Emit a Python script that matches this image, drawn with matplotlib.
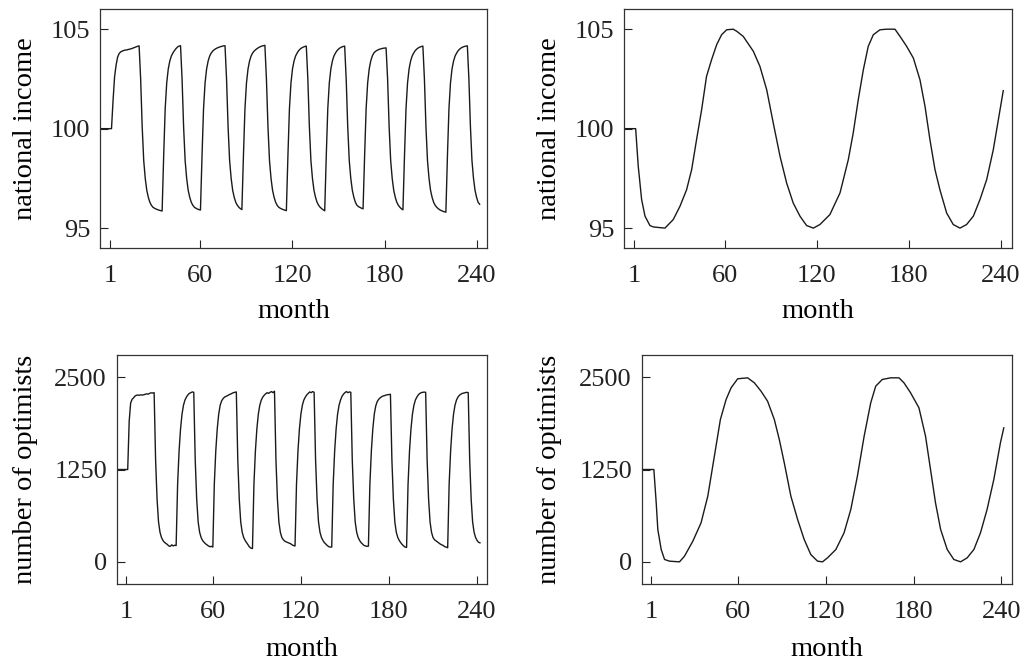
import numpy as np
import matplotlib
matplotlib.use("Agg")
import matplotlib.pyplot as plt
from matplotlib.transforms import blended_transform_factory

plt.rcParams['font.family'] = ['Liberation Serif', 'DejaVu Serif']
plt.rcParams['font.size'] = 19
plt.rcParams['axes.labelsize'] = 20.5

# ---- left column: fast cycles, monthly values from month -5 to 242 ----
fast_month = np.arange(-5, 243)

fast_income = [
    100, 100, 100, 100, 100, 100, 100, 100,
    101.4, 102.6, 103.2, 103.6, 103.78, 103.86, 103.9, 103.93, 103.95, 103.96,
    103.98, 104.0, 104.02, 104.05, 104.08, 104.11, 104.14, 104.16,
    102.5, 100.1, 98.4, 97.5, 96.9, 96.55, 96.3, 96.15, 96.05, 96.0,
    95.96, 95.93, 95.9, 95.88, 95.86,
    98.6, 101.0, 102.3, 103.0, 103.4, 103.65, 103.8, 103.92, 104.02, 104.1,
    104.15, 104.17,
    102.5, 100.1, 98.4, 97.5, 96.9, 96.55, 96.3, 96.15, 96.05, 96.0,
    95.96, 95.93, 95.91,
    98.6, 101.0, 102.3, 103.0, 103.4, 103.65, 103.8, 103.9, 103.97, 104.02,
    104.06, 104.09, 104.12, 104.14, 104.16, 104.17,
    102.5, 100.1, 98.4, 97.5, 96.9, 96.55, 96.3, 96.15, 96.05, 95.98, 95.93,
    98.6, 101.0, 102.3, 103.0, 103.4, 103.65, 103.8, 103.9, 103.97, 104.03,
    104.08, 104.12, 104.15, 104.17, 104.19,
    102.5, 100.1, 98.4, 97.5, 96.9, 96.55, 96.3, 96.15, 96.05, 96.0,
    95.96, 95.93, 95.9, 95.88,
    98.6, 101.0, 102.3, 103.0, 103.4, 103.65, 103.8, 103.92, 104.0, 104.06,
    104.1, 104.13, 104.15,
    102.5, 100.1, 98.4, 97.5, 96.9, 96.55, 96.3, 96.15, 96.05, 95.98,
    95.92, 95.87,
    98.6, 101.0, 102.3, 103.0, 103.4, 103.65, 103.8, 103.92, 104.0, 104.06,
    104.1, 104.13, 104.15,
    102.5, 100.1, 98.4, 97.5, 96.9, 96.55, 96.3, 96.15, 96.08, 96.04,
    96.0, 95.97,
    98.6, 101.0, 102.3, 103.0, 103.4, 103.65, 103.8, 103.88, 103.93, 103.97,
    104.0, 104.02, 104.04, 104.05, 104.06,
    102.5, 100.1, 98.4, 97.5, 96.9, 96.55, 96.3, 96.15, 96.05, 95.97, 95.92,
    98.6, 101.0, 102.3, 103.0, 103.4, 103.65, 103.8, 103.92, 104.0, 104.06,
    104.1, 104.13, 104.15,
    102.5, 100.1, 98.4, 97.5, 96.9, 96.55, 96.3, 96.15, 96.05, 95.98,
    95.92, 95.88, 95.85, 95.82, 95.8,
    98.6, 101.0, 102.3, 103.0, 103.4, 103.65, 103.8, 103.92, 104.0, 104.06,
    104.1, 104.13, 104.15, 104.16,
    102.5, 100.1, 98.4, 97.5, 96.9, 96.55, 96.3, 96.2,
]

fast_optimists = [
    1250, 1250, 1250, 1250, 1250, 1250, 1250, 1250,
    1900, 2150, 2200, 2220, 2245, 2255, 2258, 2255, 2260, 2258,
    2262, 2268, 2275, 2270, 2282, 2288, 2285, 2290,
    1380, 850, 540, 400, 330, 290, 265, 250, 235, 215, 210, 230, 215, 225, 220,
    1050, 1500, 1800, 2000, 2120, 2190, 2230, 2260, 2280, 2290, 2300, 2295,
    1380, 850, 540, 400, 330, 290, 265, 245, 230, 215, 205, 210, 200,
    1050, 1500, 1800, 2000, 2120, 2180, 2210, 2230, 2240, 2250,
    2262, 2270, 2280, 2290, 2295, 2300,
    1380, 850, 540, 400, 330, 290, 260, 230, 200, 185, 180,
    1050, 1500, 1800, 2000, 2120, 2190, 2230, 2255, 2275, 2290,
    2280, 2295, 2305, 2290, 2310,
    1380, 850, 540, 400, 330, 300, 280, 270, 262, 255, 245, 230, 220, 215,
    1050, 1500, 1800, 2000, 2120, 2190, 2230, 2260, 2280, 2300, 2290, 2305, 2295,
    1380, 850, 540, 400, 330, 290, 260, 240, 220, 205, 200, 200,
    1050, 1500, 1800, 2000, 2120, 2190, 2240, 2270, 2290, 2305, 2290, 2300, 2295,
    1380, 850, 540, 400, 330, 290, 260, 240, 222, 215, 210, 212,
    1050, 1500, 1800, 2000, 2110, 2170, 2200, 2220, 2235, 2245,
    2250, 2258, 2262, 2265, 2268,
    1380, 850, 540, 400, 330, 290, 260, 235, 215, 200, 195,
    1050, 1500, 1800, 2000, 2120, 2190, 2230, 2260, 2280, 2290, 2295, 2298, 2295,
    1380, 850, 540, 400, 330, 300, 285, 270, 255, 240, 230, 220, 205, 200, 190,
    1050, 1500, 1800, 2000, 2120, 2190, 2230, 2255, 2270, 2280,
    2285, 2290, 2295, 2290,
    1380, 850, 540, 400, 330, 290, 265, 257,
]

# ---- right column: slow cycles, read at irregular months ----
slow_income_month = [
    -5.5, 1.9, 3.6, 5.8, 8.0, 11.2, 13.4, 17.0, 21.0, 26.4,
    30.8, 35.1, 38.4, 41.6, 44.9, 48.1, 51.4, 54.7, 57.9, 61.2,
    65.5, 67.7, 72.0, 78.6, 82.9, 87.3, 91.6, 96.0, 100.3, 104.6,
    109.0, 113.3, 117.7, 122.0, 128.5, 135.1, 140.5, 143.7, 147.0, 150.3,
    153.5, 156.8, 161.1, 165.5, 170.9, 174.2, 178.5, 182.9, 187.2, 190.5,
    193.7, 197.0, 200.2, 204.6, 208.9, 213.3, 217.6, 222.0, 226.3, 230.7,
    235.0, 239.4, 241.5,
]
slow_income = [
    100, 100, 98.1, 96.43, 95.6, 95.13, 95.06, 95.03, 95.0, 95.43,
    96.1, 96.93, 97.94, 99.45, 100.95, 102.63, 103.47, 104.22, 104.72, 104.97,
    105.0, 104.9, 104.64, 103.89, 103.13, 101.96, 100.28, 98.61, 97.27, 96.26,
    95.6, 95.13, 95.0, 95.18, 95.68, 96.77, 98.44, 99.78, 101.46, 102.96,
    104.14, 104.72, 104.97, 105.0, 105.0, 104.64, 104.14, 103.55, 102.46, 101.12,
    99.45, 97.94, 96.93, 95.76, 95.18, 95.0, 95.18, 95.6, 96.43, 97.44,
    98.94, 100.95, 101.91,
]

slow_opt_month = [
    -5.5, 2.8, 4.4, 5.5, 7.8, 10.1, 13.5, 20.3, 23.7, 29.4,
    35.0, 39.6, 44.1, 48.2, 52.1, 55.5, 60.0, 66.8, 71.4, 75.9,
    80.4, 85.0, 88.4, 91.8, 96.3, 100.9, 105.4, 109.9, 114.5, 117.9,
    121.3, 127.0, 132.6, 137.2, 141.7, 146.3, 150.8, 154.2, 158.7, 164.4,
    170.1, 173.5, 178.0, 183.7, 188.2, 191.6, 195.0, 198.5, 203.0, 207.5,
    212.1, 216.6, 221.2, 225.7, 230.2, 234.8, 239.3, 241.6,
]
slow_optimists = [
    1250, 1250, 799, 438, 167, 32, 9, 0, 77, 280,
    528, 889, 1431, 1927, 2198, 2356, 2478, 2491, 2423, 2311,
    2175, 1927, 1656, 1340, 889, 573, 302, 99, 9, 0,
    54, 167, 393, 709, 1160, 1701, 2153, 2378, 2469, 2491,
    2491, 2423, 2288, 2085, 1701, 1250, 799, 438, 167, 32,
    0, 54, 167, 393, 709, 1115, 1611, 1814,
]

month_ticks = [1, 60, 120, 180, 240]
income_ticks = [95, 100, 105]
opt_ticks = [0, 1250, 2500]

W, H = 1033, 662
fig = plt.figure(figsize=(W / 100, H / 100), dpi=100)


def px_axes(left, top, right, bottom):
    '''Axes from pixel edges of the reference.'''
    return fig.add_axes([left / W, 1 - bottom / H, (right - left) / W, (bottom - top) / H])


def style(ax, yticks, ylim, ylabel, xlabel_top, ylabel_x):
    ax.set_xlim(-5.5, 247)
    ax.set_ylim(*ylim)
    ax.set_xticks(month_ticks)
    ax.set_yticks(yticks)
    ax.tick_params(direction='in', length=6, width=0.8, pad=7, colors='#222222',
                   top=False, right=False)
    ax.tick_params(axis='x', pad=12.5)
    for sp in ax.spines.values():
        sp.set_linewidth(0.9)
        sp.set_color('#333333')
    ax.set_xlabel('month')
    ax.set_ylabel(ylabel)
    # label spots, in figure pixels
    ax.xaxis.set_label_coords(0.5, 1 - xlabel_top / H,
                              transform=blended_transform_factory(ax.transAxes, fig.transFigure))
    ax.yaxis.set_label_coords(ylabel_x / W, 0.5,
                              transform=blended_transform_factory(fig.transFigure, ax.transAxes))


axes = [
    px_axes(100, 9.3, 487.3, 248),
    px_axes(624.3, 9.3, 1011.7, 248),
    px_axes(116.7, 355, 487.3, 584),
    px_axes(641.7, 355, 1011.7, 584),
]

assert len(fast_income) == len(fast_month)
assert len(fast_optimists) == len(fast_month)

axes[0].plot(fast_month, fast_income, color='#1a1a1a', lw=1.0)
axes[1].plot(slow_income_month, slow_income, color='#1a1a1a', lw=1.0)
axes[2].plot(fast_month, fast_optimists, color='#1a1a1a', lw=1.0)
axes[3].plot(slow_opt_month, slow_optimists, color='#1a1a1a', lw=1.0)

style(axes[0], income_ticks, (94, 106), 'national income', 299, 38)
style(axes[1], income_ticks, (94, 106), 'national income', 299, 562)
style(axes[2], opt_ticks, (-300, 2800), 'number of optimists', 637, 38)
style(axes[3], opt_ticks, (-300, 2800), 'number of optimists', 637, 562)

fig.savefig('out.png', dpi=100)
